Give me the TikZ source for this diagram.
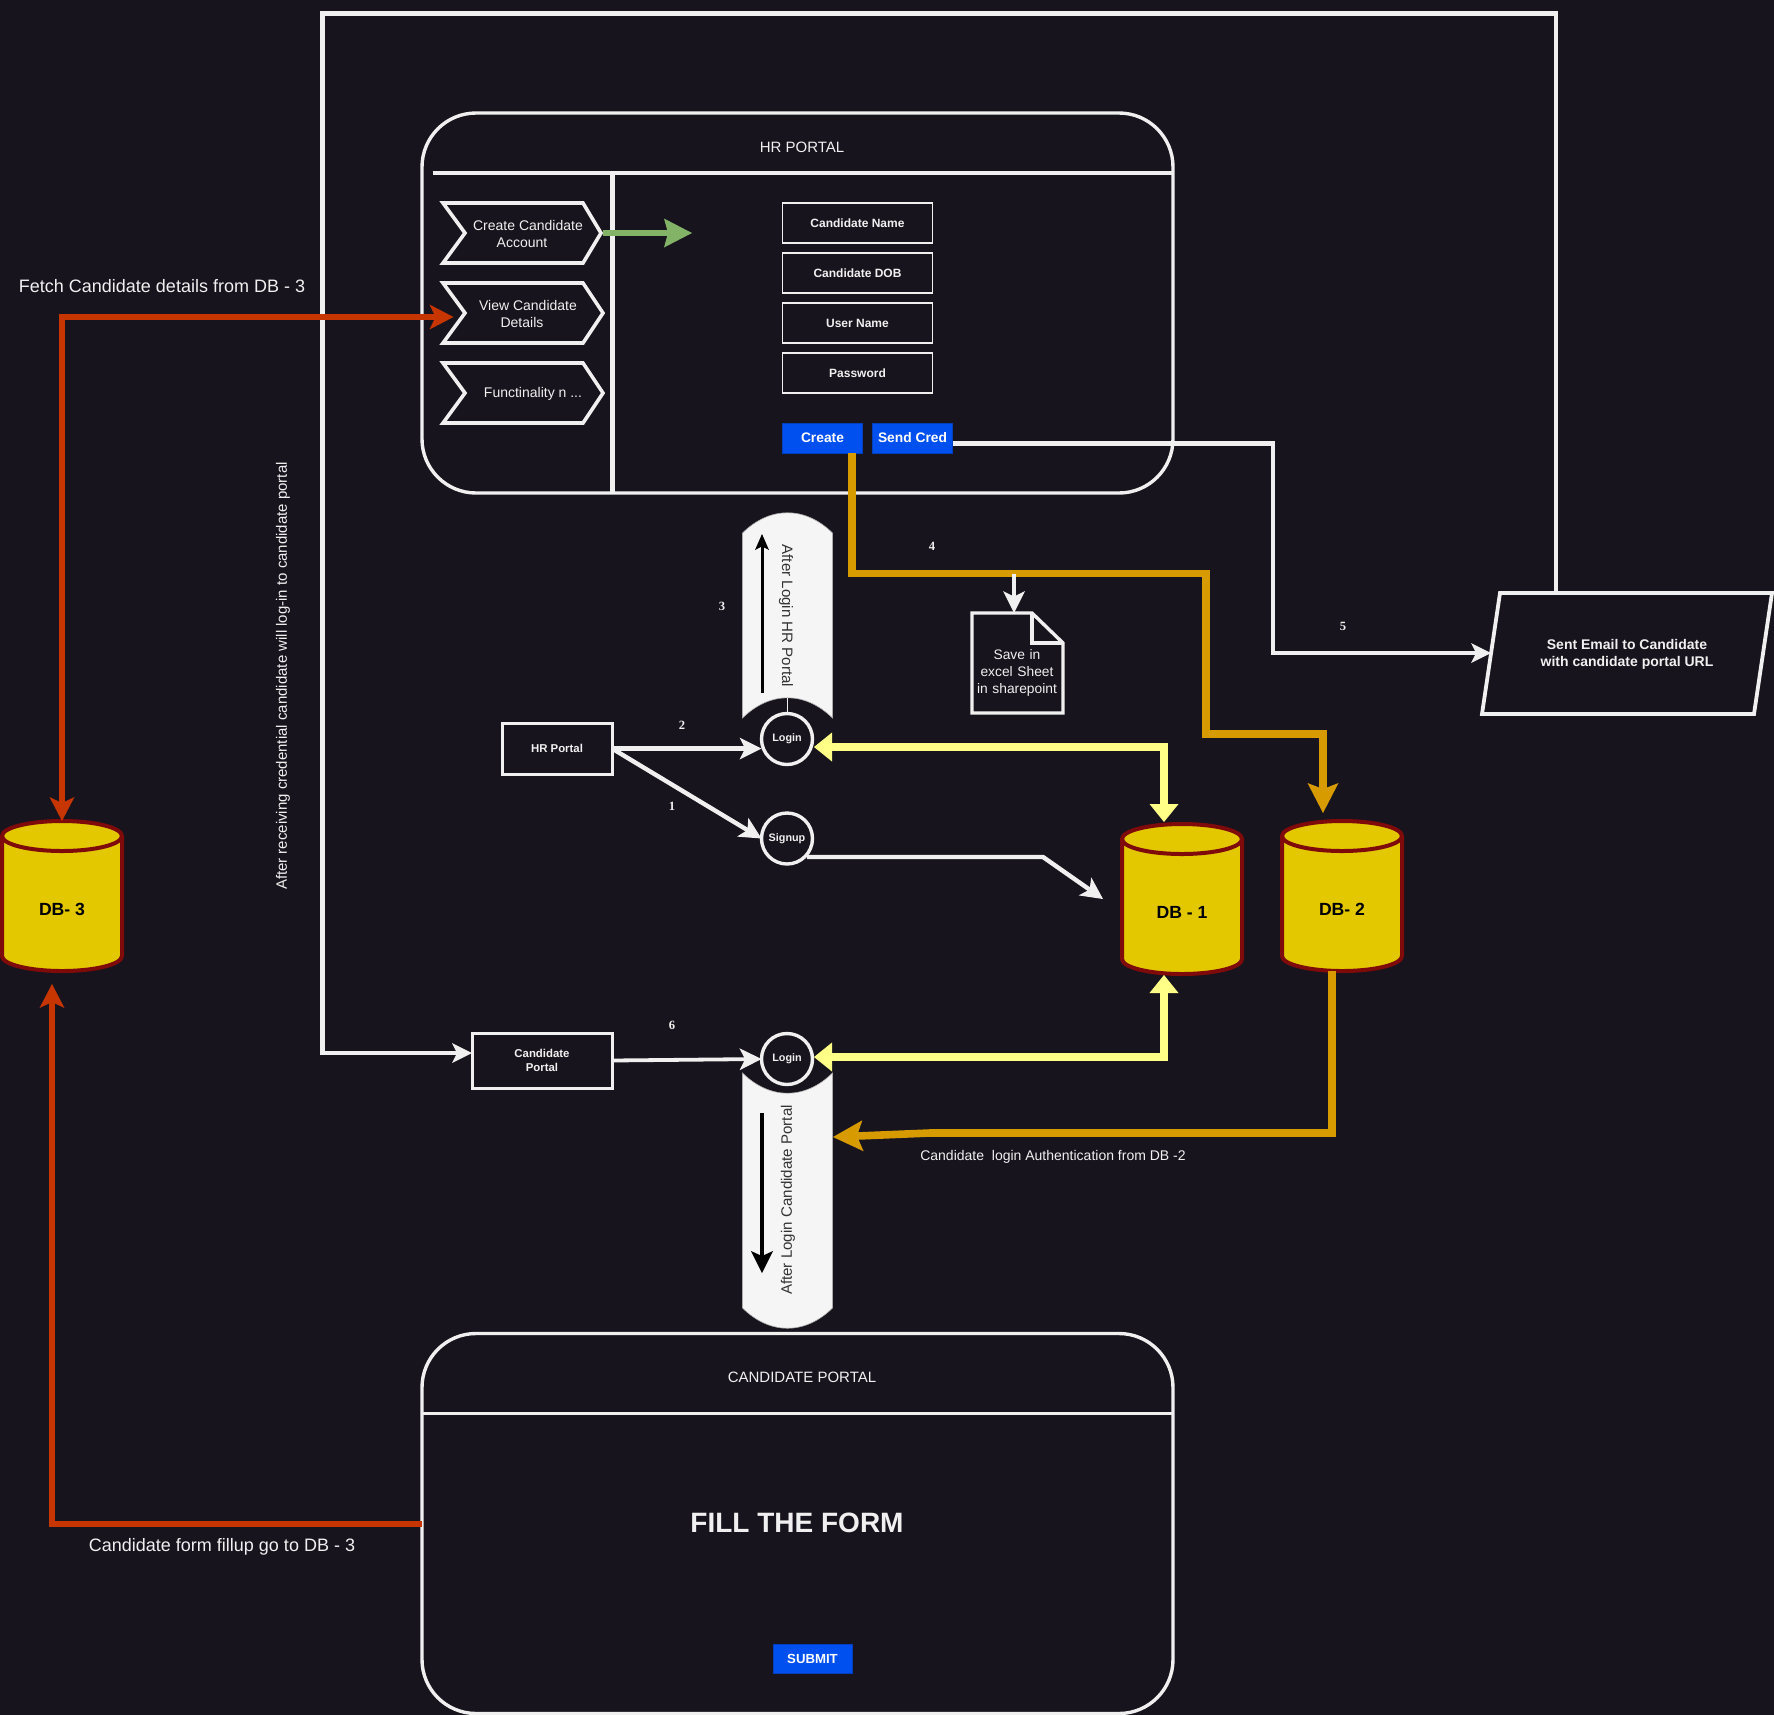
\documentclass[tikz,border=0pt]{standalone}
\usepackage{fontspec}
\setmainfont{Liberation Sans}
\newfontfamily\numfont{Liberation Serif}
\usetikzlibrary{arrows.meta,calc}
\definecolor{bgc}{HTML}{18141D}
\definecolor{wht}{HTML}{F0F0F0}
\definecolor{blu}{HTML}{0050EF}
\definecolor{org}{HTML}{D79B00}
\definecolor{redd}{HTML}{C73500}
\definecolor{yel}{HTML}{FFFF88}
\definecolor{grn}{HTML}{82B366}
\definecolor{dbf}{HTML}{E3C800}
\definecolor{dbs}{HTML}{7F0A0A}
\definecolor{scr}{HTML}{F5F5F5}
\tikzset{
  txt/.style={inner sep=0pt,outer sep=0pt,text=wht,align=center,font=\fontsize{7pt}{8.5pt}\selectfont},
  bigtxt/.style={inner sep=0pt,outer sep=0pt,text=wht,align=center,font=\fontsize{7.5pt}{9pt}\selectfont},
  portal/.style={draw=wht,line width=1.7pt,rounded corners=27pt,inner sep=0pt,outer sep=0pt},
  rule/.style={draw=wht,line width=1.6pt},
  rulev/.style={draw=wht,line width=2.4pt},
  chev/.style={draw=wht,line width=1.8pt,miter limit=10},
  field/.style={draw=wht,line width=.75pt,inner sep=0pt,outer sep=0pt,minimum width=75pt,minimum height=20pt,text=wht,font=\bfseries\fontsize{6pt}{7pt}\selectfont},
  btn/.style={fill=blu,draw=blu!80!black,line width=.4pt,inner sep=0pt,outer sep=0pt,minimum width=40pt,minimum height=15pt,text=white,font=\bfseries\fontsize{6.9pt}{8pt}\selectfont},
  ebox/.style={draw=wht,line width=1.5pt,inner sep=0pt,outer sep=0pt,text=wht,align=center,font=\bfseries\fontsize{5.7pt}{7.4pt}\selectfont},
  disc/.style={circle,draw=wht,line width=1.7pt,fill=bgc,minimum size=25.5pt,inner sep=0pt,outer sep=0pt,text=wht,font=\bfseries\fontsize{5.4pt}{7pt}\selectfont},
  scroll/.style={fill=scr,draw=scr!70!black,line width=.3pt},
  scrolltxt/.style={inner sep=0pt,text=black!80,font=\fontsize{7.55pt}{9pt}\selectfont},
  num/.style={inner sep=0pt,text=wht,font=\numfont\bfseries\fontsize{6.3pt}{7pt}\selectfont},
  dbshape/.style={fill=dbf,draw=dbs,line width=2pt},
  dbtxt/.style={inner sep=0pt,text=black,font=\bfseries\fontsize{8.8pt}{10pt}\selectfont},
  wline/.style={draw=wht,line width=2.2pt,-{Stealth[length=11pt,width=11pt,inset=2.8pt,line width=0pt]}},
  wloop/.style={draw=wht,line width=2.1pt,-{Stealth[length=10pt,width=10pt,inset=2.5pt,line width=0pt]}},
  yline/.style={draw=yel,line width=4.4pt,{Stealth[length=9pt,width=14.5pt,inset=0pt,line width=0pt]}-{Stealth[length=9pt,width=14.5pt,inset=0pt,line width=0pt]}},
  oline/.style={draw=org,line width=3.8pt,-{Stealth[length=15pt,width=15.5pt,inset=3pt,line width=0pt]}},
  rline/.style={draw=redd,line width=2.8pt,-{Stealth[length=12pt,width=12.5pt,inset=3pt,line width=0pt]}},
  rdbl/.style={draw=redd,line width=2.8pt,{Stealth[length=12pt,width=12.5pt,inset=3pt,line width=0pt]}-{Stealth[length=12pt,width=12.5pt,inset=3pt,line width=0pt]}},
  gline/.style={draw=grn,line width=3.4pt,-{Stealth[length=14pt,width=14.5pt,inset=2pt,line width=0pt]}},
  kline/.style={draw=black,line width=1.5pt,-{Stealth[length=8pt,width=7pt,inset=1.8pt,line width=0pt]}},
  kline2/.style={draw=black,line width=2.1pt,-{Stealth[length=11pt,width=11pt,inset=2.5pt,line width=0pt]}},
}
\newcommand{\chevshape}[2]{% top y, tip x
  \draw[chev] (443,#1) -- (583,#1) -- (#2,#1+30) -- (583,#1+60) -- (443,#1+60) -- (465,#1+30) -- cycle;}
\newcommand{\cylshape}[2]{%
  \begin{scope}[shift={(#1,#2)}]
    \draw[dbshape] (-60,15) .. controls (-60,6.7) and (-33,0) .. (0,0) .. controls (33,0) and (60,6.7) .. (60,15)
      -- (60,135) .. controls (60,143.3) and (33,150) .. (0,150) .. controls (-33,150) and (-60,143.3) .. (-60,135) -- cycle;
    \draw[dbs,line width=2pt] (-60,15) .. controls (-60,23.3) and (-33,30) .. (0,30) .. controls (33,30) and (60,23.3) .. (60,15);
  \end{scope}}
\begin{document}
\begin{tikzpicture}[x=0.5pt,y=-0.5pt]
\useasboundingbox (0,0) rectangle (1774,1715);
\fill[bgc] (0,0) rectangle (1774,1715);

% portals
\node[portal,minimum width=375.5pt,minimum height=190pt] (hrp) at (797.5,303) {};
\node[portal,minimum width=375.5pt,minimum height=190pt] (cdp) at (797.5,1523.5) {};
\draw[rule] (432.5,173) -- (hrp.east |- 0,173);
\draw[rulev] (612.5,173) -- (612.5,493);
\draw[rule] (cdp.west |- 0,1413.5) -- (cdp.east |- 0,1413.5);
\node[bigtxt] (hrtitle) at (802,147) {HR PORTAL};
\node[bigtxt] (cdtitle) at (802,1377) {CANDIDATE PORTAL};
\node[txt,font=\bfseries\fontsize{14pt}{16pt}\selectfont] (fill) at (797,1523) {FILL THE FORM};
\node[btn,minimum width=39.5pt,minimum height=14.5pt,font=\bfseries\fontsize{6.6pt}{8pt}\selectfont] (submit) at (812.5,1658.5) {SUBMIT};

% chevrons
\chevshape{203}{601}
\chevshape{283}{603}
\chevshape{363}{603}
\coordinate (c1tip) at (603,233);
\coordinate (c2in) at (453.5,317);
\node[txt] (c1a) at (528,225.5) {Create Candidate};
\node[txt] (c1b) at (522,242.5) {Account};
\node[txt] (c2a) at (528,305.5) {View Candidate};
\node[txt] (c2b) at (522,322.5) {Details};
\node[txt] (c3) at (533,394) {Functinality n ...};

% fields
\node[field] (f1) at (857.5,223) {Candidate Name};
\node[field] (f2) at (857.5,273) {Candidate DOB};
\node[field] (f3) at (857.5,323) {User Name};
\node[field] (f4) at (857.5,373) {Password};
\node[btn] (create) at (822.5,438) {Create};
\node[btn] (send) at (912.5,438) {Send Cred};

% scrolls
\draw[scroll] (742.5,533) .. controls (770,506) and (805,506) .. (832.5,533) -- (832.5,718)
  .. controls (805,691) and (770,691) .. (742.5,718) -- cycle;
\draw[scroll] (742.5,1073) .. controls (770,1100) and (805,1100) .. (832.5,1073) -- (832.5,1308)
  .. controls (805,1335) and (770,1335) .. (742.5,1308) -- cycle;
\coordinate (s1a) at (762,693); \coordinate (s1b) at (762,534);
\coordinate (s2a) at (762,1113); \coordinate (s2b) at (762,1273);
\draw[kline] (s1a) -- (s1b);
\draw[kline2] (s2a) -- (s2b);
\node[scrolltxt,rotate=-90] (s1t) at (786,616) {After Login HR Portal};
\node[scrolltxt,rotate=90] (s2t) at (788,1200) {After Login Candidate Portal};

% small boxes and circles
\node[ebox,minimum width=55pt,minimum height=25.5pt] (hrb) at (557,748.5) {HR Portal};
\node[ebox,minimum width=70pt,minimum height=27.5pt] (cdb) at (542,1060.5) {Candidate\\Portal};
\node[disc] (login1) at (787,739) {Login};
\node[disc] (signup) at (787,838.5) {Signup};
\node[disc] (login2) at (787,1059) {Login};
\draw[draw=wht,line width=.5pt] (787,698) -- (login1.north);

% cylinders
\cylshape{62}{821}
\cylshape{1182}{824}
\cylshape{1342}{821}
\node[dbtxt] (db3) at (62,909) {DB- 3};
\node[dbtxt] (db1) at (1182,912) {DB - 1};
\node[dbtxt] (db2) at (1342,909) {DB- 2};
\coordinate (db3top) at (62,821);
\coordinate (db3bot) at (52,984);
\coordinate (db1top) at (1164,822);
\coordinate (db1bot) at (1164,975);
\coordinate (db1in) at (1103,899);
\coordinate (db2top) at (1323,813);
\coordinate (db2bot) at (1332,971);

% document
\draw[draw=wht,line width=1.7pt] (972,613) -- (1032,613) -- (1063,643) -- (1063,713) -- (972,713) -- cycle;
\draw[draw=wht,line width=1.7pt] (1032,613) -- (1032,643) -- (1063,643);
\node[txt,text width=45pt,font=\fontsize{6.9pt}{8.4pt}\selectfont] (doc) at (1017,673) {Save in\\excel Sheet\\in sharepoint};
\coordinate (doctop) at (1014,613);

% parallelogram
\draw[draw=wht,line width=1.9pt] (1500,593) -- (1772,593) -- (1754,714) -- (1482,714) -- cycle;
\node[txt,font=\bfseries\fontsize{7pt}{8.4pt}\selectfont] (mail) at (1627,654.5) {Sent Email to Candidate\\with candidate portal URL};
\coordinate (mailleft) at (1491,653);
\coordinate (mailtop) at (1556,593);

% labels
\node[txt,font=\fontsize{9pt}{10pt}\selectfont] (l1) at (162,286) {Fetch Candidate details from DB - 3};
\node[txt,font=\fontsize{9pt}{10pt}\selectfont] (l2) at (222,1547) {Candidate form fillup go to DB - 3};
\node[bigtxt,rotate=90] (l3) at (283,676) {After receiving credential candidate will log-in to candidate portal};
\node[txt] (l4) at (1053,1157) {Candidate\ \ login Authentication from DB -2};
\node[num] (n1) at (672,806) {1};
\node[num] (n2) at (682,725.5) {2};
\node[num] (n3) at (722,606) {3};
\node[num] (n4) at (932,546) {4};
\node[num] (n5) at (1343,626) {5};
\node[num] (n6) at (672,1025.5) {6};

% connectors
\coordinate (cdbin) at (472,1053);
\draw[wline] (hrb.east) -- (login1.west |- hrb.east);
\draw[wline] (hrb.east) -- (signup.west);
\draw[wline,line width=1.9pt] (cdb.east) -- (login2.west);
\coordinate (sg1) at (807,857);
\draw[wline,line join=miter] (sg1) -- (1043,857) -- (db1in);
\draw[gline] (c1tip) -- (692,233);
\coordinate (lg1y) at (814,747);
\coordinate (lg2y) at (814,1057);
\draw[yline] (lg1y) -| (db1top);
\draw[yline] (lg2y) -| (db1bot);
\draw[oline] (create.south -| 852,0) |- (1206,573.5) |- (1323,734) -- (db2top);
\draw[wline] (1014,573.5) -- (doctop);
\draw[wloop] (send.east |- 0,443.5) -- (1273,443.5) |- (mailleft);
\draw[wloop] (mailtop) |- (322.5,13.5) |- (cdbin);
\draw[rdbl] (db3top) |- (c2in);
\coordinate (cdl) at (422,1524);
\draw[rline] (cdl) -| (db3bot);
\draw[oline,line join=miter] (db2bot) |- (930,1133) -- (833,1137);
\end{tikzpicture}
\end{document}
